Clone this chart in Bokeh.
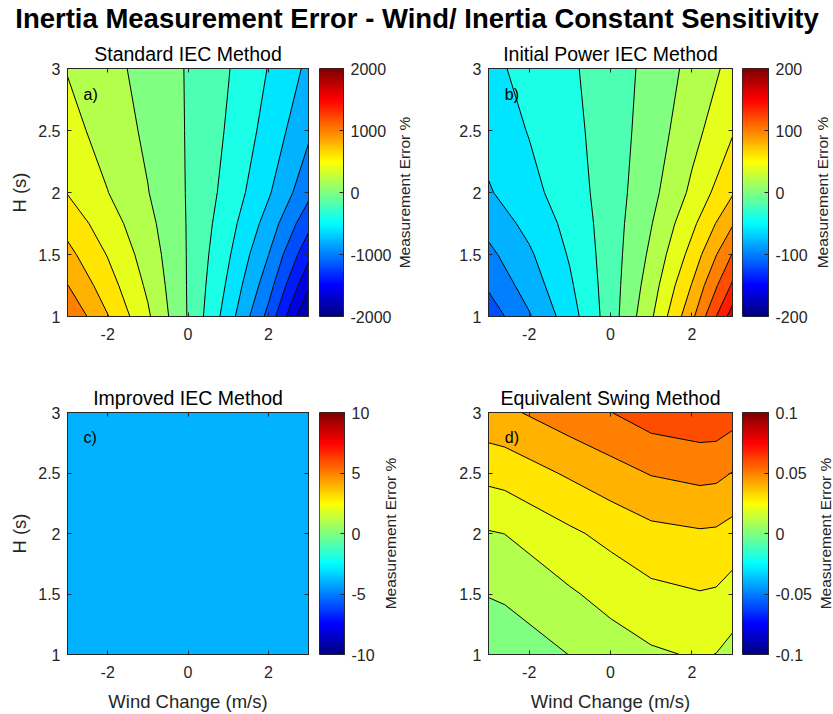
import math
import numpy as np
from bokeh.plotting import figure
from bokeh.layouts import row, column
from bokeh.models import (FixedTicker, CustomJSTickFormatter, LinearAxis, Label,
                          LinearColorMapper, Range1d)
from bokeh.embed import file_html
from bokeh.resources import INLINE

# ---------------- data ----------------
wind_change = [-3, -2, -1, 0, 1, 2, 3]
inertia_h = [1, 1.25, 1.5, 1.75, 2, 2.5, 3]

# rows: H = 1 ... 3, columns: wind change -3 ... 3
err_standard = [
    [1180, 810, 430, -13, -500, -1060, -1830],
    [1006, 690, 364, -14, -432, -916, -1569],
    [860, 589, 309, -14, -374, -796, -1349],
    [722, 494, 257, -14, -320, -681, -1141],
    [591, 404, 207, -15, -269, -574, -945],
    [469, 320, 161, -15, -221, -472, -761],
    [390, 265, 131, -15, -190, -407, -642],
]
err_initial = [
    [-112, -82, -49, -10, 37, 95, 170],
    [-97, -71, -43, -10, 30, 81, 143],
    [-85, -63, -38, -10, 24, 67, 121],
    [-73, -54, -34, -10, 19, 55, 98],
    [-62, -46, -30, -10, 14, 44, 78],
    [-52, -39, -26, -10, 9, 33, 58],
    [-45, -34, -23, -10, 6, 26, 46],
]
err_improved = [
    [-3.8, -3.8, -3.8, -3.8, -3.8, -3.8, -3.8],
    [-3.8, -3.8, -3.8, -3.8, -3.8, -3.8, -3.8],
    [-3.8, -3.8, -3.8, -3.8, -3.8, -3.8, -3.8],
    [-3.8, -3.8, -3.8, -3.8, -3.8, -3.8, -3.8],
    [-3.8, -3.8, -3.8, -3.8, -3.8, -3.8, -3.8],
    [-3.8, -3.8, -3.8, -3.8, -3.8, -3.8, -3.8],
    [-3.8, -3.8, -3.8, -3.8, -3.8, -3.8, -3.8],
]
wind_change_swing = [-3, -2.6, -1, 0, 1, 2.2, 2.6, 3]
inertia_h_swing = [1, 1.5, 2, 2.5, 3]
err_swing = [
    [0.002, 0.003, 0.0102, 0.015, 0.0186, 0.021, 0.0198, 0.0167],
    [0.0105, 0.0115, 0.0188, 0.0234, 0.0275, 0.0295, 0.0289, 0.0259],
    [0.0193, 0.0201, 0.0283, 0.0328, 0.0372, 0.0389, 0.0385, 0.0362],
    [0.033, 0.034, 0.0414, 0.0462, 0.0506, 0.0529, 0.0524, 0.0497],
    [0.047, 0.048, 0.0557, 0.0598, 0.0649, 0.067, 0.0669, 0.0643],
]

wind_ticks = [-2, 0, 2]
h_ticks = [1, 1.5, 2, 2.5, 3]
cbar_ticks_standard = [-2000, -1000, 0, 1000, 2000]
cbar_ticks_initial = [-200, -100, 0, 100, 200]
cbar_ticks_improved = [-10, -5, 0, 5, 10]
cbar_ticks_swing = [-0.1, -0.05, 0, 0.05, 0.1]

levels_standard = list(range(-2000, 2001, 200))
levels_initial = list(range(-200, 201, 20))
levels_improved = list(range(-10, 11, 2))
levels_swing = [round(-0.1 + 0.01 * i, 2) for i in range(21)]

# ---------------- styling ----------------
FONT = "Liberation Sans"
AX = "#262626"
TICK_FS = "16px"
LABEL_FS = "18.5px"
TITLE_FS = "19.5px"


def jet(t):
    t = min(max(t, 0.0), 1.0)
    r = min(max(min(4 * t - 1.5, -4 * t + 4.5), 0.0), 1.0)
    g = min(max(min(4 * t - 0.5, -4 * t + 3.5), 0.0), 1.0)
    b = min(max(min(4 * t + 0.5, -4 * t + 2.5), 0.0), 1.0)
    return "#%02x%02x%02x" % (round(r * 255), round(g * 255), round(b * 255))


JET = [jet(i / 255) for i in range(256)]


def style_axis(ax, ticks, show_labels=True):
    ax.ticker = FixedTicker(ticks=ticks)
    ax.minor_tick_line_color = None
    ax.major_tick_in = 4
    ax.major_tick_out = 0
    ax.axis_line_color = AX
    ax.major_tick_line_color = AX
    ax.major_label_text_color = AX
    ax.major_label_text_font = FONT
    if show_labels:
        ax.formatter = CustomJSTickFormatter(code="return String(tick);")
        ax.major_label_text_font_size = TICK_FS
    else:
        ax.formatter = CustomJSTickFormatter(code="return '';")
        ax.major_label_text_font_size = "1px"
        ax.major_label_standoff = 0
    ax.axis_label_text_font = FONT
    ax.axis_label_text_font_size = LABEL_FS
    ax.axis_label_text_font_style = "normal"
    ax.axis_label_text_color = AX


def panel(title, tag, xs, ys, z, levels, lo, hi, ylabel, xlabel,
          width, height, bl, br, bt, bb):
    p = figure(width=width, height=height, x_range=Range1d(-3, 3), y_range=Range1d(1, 3),
               toolbar_location=None, output_backend="svg",
               min_border_left=bl, min_border_right=br,
               min_border_top=bt, min_border_bottom=bb)
    p.title.text = title
    p.title.align = "center"
    p.title.text_font = FONT
    p.title.text_font_size = TITLE_FS
    p.title.text_font_style = "normal"
    p.title.text_color = "black"
    p.title.standoff = 8
    colors = [jet((lv - lo) / (hi - lo)) for lv in levels[:-1]]
    p.contour(np.array(xs, dtype=float), np.array(ys, dtype=float), np.array(z, dtype=float),
              levels, fill_color=colors, line_color="black", line_width=1)
    p.grid.visible = False
    p.outline_line_color = AX
    p.outline_line_width = 1
    style_axis(p.xaxis[0], wind_ticks)
    style_axis(p.yaxis[0], h_ticks)
    p.xaxis[0].major_label_standoff = 11
    p.yaxis[0].major_label_standoff = 7
    if ylabel:
        p.yaxis[0].axis_label = ylabel
        p.yaxis[0].axis_label_standoff = 5
    if xlabel:
        p.xaxis[0].axis_label = xlabel
        p.xaxis[0].axis_label_standoff = 10
    top = LinearAxis()
    style_axis(top, wind_ticks, show_labels=False)
    p.add_layout(top, "above")
    right = LinearAxis()
    style_axis(right, h_ticks, show_labels=False)
    p.add_layout(right, "right")
    p.add_layout(Label(x=-2.6, y=2.79, text=tag, text_align="left", text_baseline="middle",
                       text_font=FONT, text_font_size=TICK_FS, text_color="black"))
    return p


def colorbar(lo, hi, ticks, width, height, bl, br, bt, bb):
    p = figure(width=width, height=height, x_range=Range1d(0, 1), y_range=Range1d(lo, hi),
               toolbar_location=None, output_backend="svg",
               x_axis_location=None, y_axis_location="right",
               min_border_left=bl, min_border_right=br,
               min_border_top=bt, min_border_bottom=bb)
    mapper = LinearColorMapper(palette=JET, low=lo, high=hi)
    grad = np.linspace(lo, hi, 256).reshape(256, 1)
    p.image(image=[grad], x=0, y=lo, dw=1, dh=hi - lo, color_mapper=mapper)
    p.grid.visible = False
    p.outline_line_color = AX
    ax = p.yaxis[0]
    style_axis(ax, ticks)
    ax.major_label_standoff = 7
    return p


def cbar_label(width, height, bt, bb, cx):
    p = figure(width=width, height=height, x_range=Range1d(0, width), y_range=Range1d(0, 1),
               toolbar_location=None, output_backend="svg",
               x_axis_location=None, y_axis_location=None,
               min_border_left=0, min_border_right=0, min_border_top=bt, min_border_bottom=bb)
    p.outline_line_color = None
    p.grid.visible = False
    p.add_layout(Label(x=cx, y=0.5, text="Measurement Error %",
                       angle=math.pi / 2, text_align="center", text_baseline="middle",
                       text_font=FONT, text_font_size="15.5px", text_color=AX))
    return p


# ---------------- layout ----------------
tp = figure(width=833, height=36, x_range=Range1d(0, 1), y_range=Range1d(0, 1),
            toolbar_location=None, output_backend="svg",
            x_axis_location=None, y_axis_location=None, min_border=0)
tp.outline_line_color = None
tp.grid.visible = False
tp.add_layout(Label(x=0.5, y=0.49, text="Inertia Measurement Error - Wind/ Inertia Constant Sensitivity",
                    text_align="center", text_baseline="middle", text_font=FONT,
                    text_font_size="27.5px", text_font_style="bold", text_color="black"))

H1, H2 = 334, 344
pa = panel("Standard IEC Method", "a)", wind_change, inertia_h, err_standard,
           levels_standard, -2000, 2000, "H (s)", None, 313, H1, 67, 5, 32, 54)
ca = colorbar(-2000, 2000, cbar_ticks_standard, 81, H1, 6, 50, 32, 54)
la = cbar_label(26, H1, 32, 54, 9.5)
pb = panel("Initial Power IEC Method", "b)", wind_change, inertia_h, err_initial,
           levels_initial, -200, 200, None, None, 317, H1, 68, 5, 32, 54)
cb = colorbar(-200, 200, cbar_ticks_initial, 73, H1, 5, 42, 32, 54)
lb = cbar_label(23, H1, 32, 54, 11.5)

pc = panel("Improved IEC Method", "c)", wind_change, inertia_h, err_improved,
           levels_improved, -10, 10, "H (s)", "Wind Change (m/s)", 313, H2, 67, 5, 42, 56)
cc = colorbar(-10, 10, cbar_ticks_improved, 67, H2, 6, 36, 42, 56)
lc = cbar_label(40, H2, 42, 56, 10)
pd_ = panel("Equivalent Swing Method", "d)", wind_change_swing, inertia_h_swing, err_swing,
            levels_swing, -0.1, 0.1, None, "Wind Change (m/s)", 317, H2, 68, 5, 42, 56)
cd = colorbar(-0.1, 0.1, cbar_ticks_swing, 78, H2, 5, 47, 42, 56)
ld = cbar_label(18, H2, 42, 56, 10)

layout = column(tp, row(pa, ca, la, pb, cb, lb), row(pc, cc, lc, pd_, cd, ld))

open("out.html", "w").write(file_html(layout, INLINE))
